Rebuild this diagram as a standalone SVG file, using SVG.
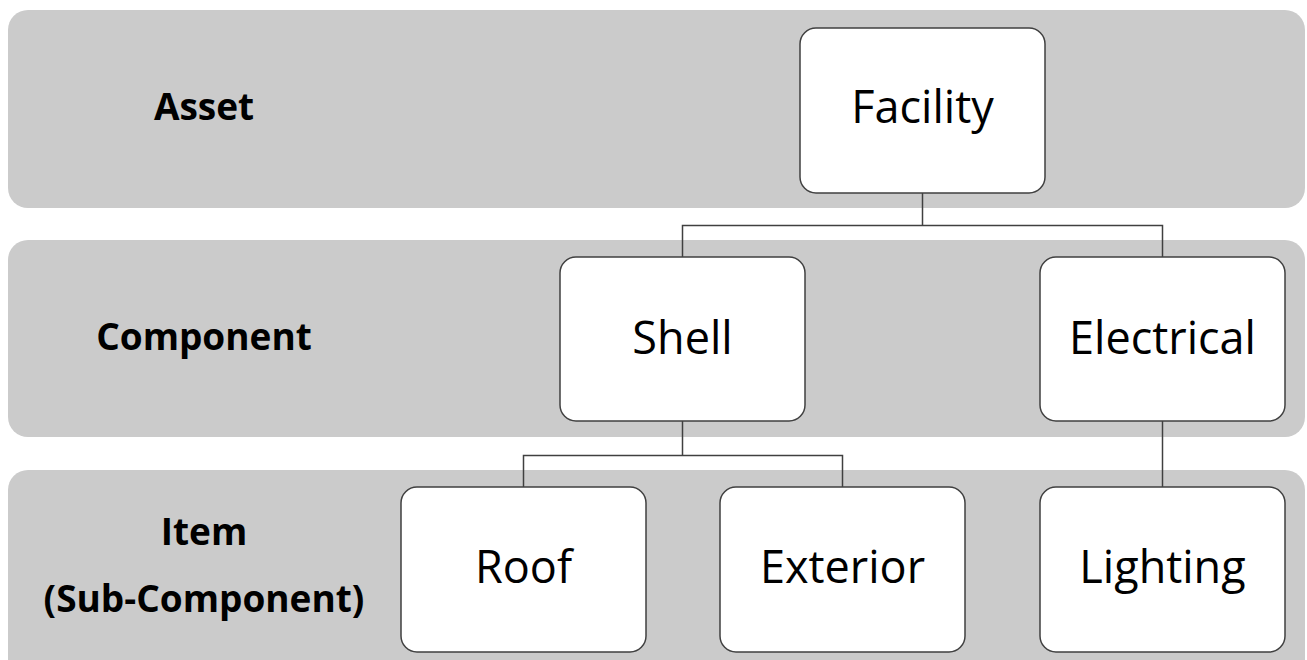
<svg xmlns="http://www.w3.org/2000/svg" width="1307" height="660" viewBox="0 0 1307 660">
<style>
.band{fill:#cbcbcb}
.node{fill:#ffffff;stroke:#404040;stroke-width:1.5}
.lbl{font-family:"Open Sans","Liberation Sans",sans-serif;font-size:45px;fill:#000;text-anchor:middle}
.lvl{font-family:"Open Sans","Liberation Sans",sans-serif;font-size:37px;font-weight:bold;fill:#000;text-anchor:middle}
.conn{fill:none;stroke:#404040;stroke-width:1.5}
</style>
<rect width="1307" height="660" fill="#ffffff"/>
<g id="bands">
<rect class="band" x="8" y="10" width="1297" height="198" rx="20"/>
<rect class="band" x="8" y="240" width="1297" height="197" rx="20"/>
<rect class="band" x="8" y="470" width="1297" height="210" rx="20"/>
<text class="lvl" x="204" y="120">Asset</text>
<text class="lvl" x="204" y="350">Component</text>
<text class="lvl" x="204" y="545">Item</text>
<text class="lvl" x="204" y="612">(Sub-Component)</text>
</g>
<g id="connectors">
<path class="conn" d="M922.5 193V225.5H682.5V257M922.5 225.5H1162.5V257"/>
<path class="conn" d="M682.5 421V455.5H523.5V487M682.5 455.5H842.5V487"/>
<path class="conn" d="M1162.5 421V487"/>
</g>
<g id="facility"><rect class="node" x="800" y="28" width="245" height="165" rx="16"/><text class="lbl" x="922.5" y="123">Facility</text></g>
<g id="shell"><rect class="node" x="560" y="257" width="245" height="164" rx="16"/><text class="lbl" x="682.5" y="354">Shell</text></g>
<g id="electrical"><rect class="node" x="1040" y="257" width="245" height="164" rx="16"/><text class="lbl" x="1162.5" y="354">Electrical</text></g>
<g id="roof"><rect class="node" x="401" y="487" width="245" height="165" rx="16"/><text class="lbl" x="523.5" y="583">Roof</text></g>
<g id="exterior"><rect class="node" x="720" y="487" width="245" height="165" rx="16"/><text class="lbl" x="842.5" y="583">Exterior</text></g>
<g id="lighting"><rect class="node" x="1040" y="487" width="245" height="165" rx="16"/><text class="lbl" x="1162.5" y="583">Lighting</text></g>
</svg>
